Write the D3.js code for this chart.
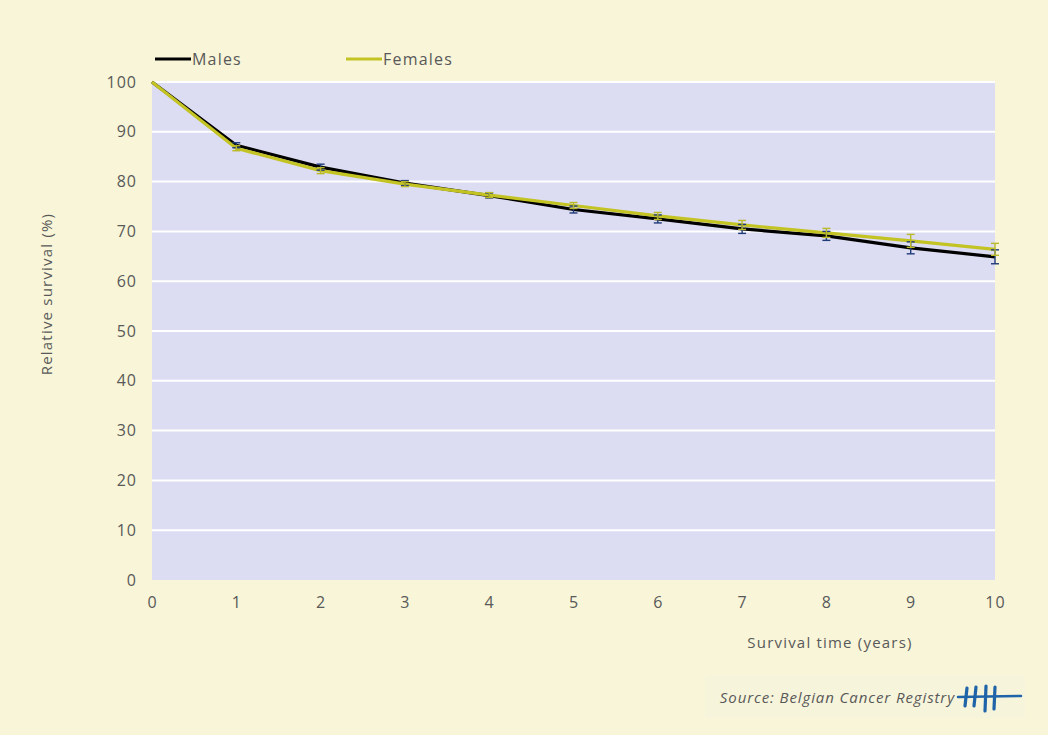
<!DOCTYPE html>
<html>
<head>
<meta charset="utf-8">
<script src="https://cdn.jsdelivr.net/npm/d3@7"></script>
<style>
  html, body { margin: 0; padding: 0; background: #f8f5d8; }
  svg { display: block; }
  text { font-family: "Open Sans", "Noto Sans", sans-serif; fill: #595959; }
</style>
</head>
<body>
<svg id="chart" width="1048" height="735"></svg>
<script>
// Survival time in years
const years = [0, 1, 2, 3, 4, 5, 6, 7, 8, 9, 10];
// Relative survival (%) by sex
const males   = [100, 87.3, 82.9, 79.7, 77.2, 74.4, 72.5, 70.5, 69.1, 66.7, 64.9];
const females = [100, 86.7, 82.2, 79.5, 77.3, 75.2, 73.1, 71.3, 69.7, 68.1, 66.4];
// Half-width of the 95% confidence interval (%)
const malesCI   = [0, 0.5, 0.6, 0.5, 0.5, 0.7, 0.8, 0.9, 0.9, 1.2, 1.4];
const femalesCI = [0, 0.5, 0.6, 0.5, 0.5, 0.6, 0.7, 0.9, 0.9, 1.3, 1.2];
const yTicks = [0, 10, 20, 30, 40, 50, 60, 70, 80, 90, 100];

const svg = d3.select("#chart");
const W = 1048, H = 735;
const m = { left: 152, right: 53, top: 82, bottom: 155 };

svg.append("rect").attr("width", W).attr("height", H).attr("fill", "#f8f5d8");

const x = d3.scaleLinear().domain([0, 10]).range([m.left, W - m.right]);
const y = d3.scaleLinear().domain([0, 100]).range([H - m.bottom, m.top]);

// plot area
svg.append("rect")
  .attr("x", x(0)).attr("y", y(100))
  .attr("width", x(10) - x(0)).attr("height", y(0) - y(100))
  .attr("fill", "#dcdcf2");

// horizontal gridlines
svg.append("g").selectAll("line").data(yTicks.filter(d => d > 0)).join("line")
  .attr("x1", x(0)).attr("x2", x(10))
  .attr("y1", d => y(d)).attr("y2", d => y(d))
  .attr("stroke", "#ffffff").attr("stroke-width", 2);

// y axis labels
const yAxis = d3.axisLeft(y).tickValues(yTicks).tickSize(0).tickPadding(15);
svg.append("g").attr("transform", `translate(${x(0)},0)`).call(yAxis)
  .call(g => g.select(".domain").remove())
  .selectAll("text").style("font-size", "16px").style("letter-spacing", "1px")
  .style("font-family", "'Open Sans', sans-serif").attr("fill", "#595959");

// x axis labels
const xAxis = d3.axisBottom(x).tickValues(years).tickSize(0).tickPadding(17);
svg.append("g").attr("transform", `translate(0,${y(0)})`).call(xAxis)
  .call(g => g.select(".domain").remove())
  .selectAll("text").style("font-size", "16px").style("letter-spacing", "1px")
  .style("font-family", "'Open Sans', sans-serif").attr("fill", "#595959");

// axis titles
svg.append("text")
  .attr("transform", `translate(52,${(y(0) + y(100)) / 2 - 37}) rotate(-90)`)
  .attr("text-anchor", "middle").style("font-size", "15px").style("letter-spacing", "1.2px")
  .text("Relative survival (%)");
svg.append("text")
  .attr("x", 830).attr("y", 648)
  .attr("text-anchor", "middle").style("font-size", "15px").style("letter-spacing", "1.2px")
  .text("Survival time (years)");

const series = [
  { name: "Males", values: males, ci: malesCI, color: "#000000", bar: "#1f3a78" },
  { name: "Females", values: females, ci: femalesCI, color: "#c3c324", bar: "#b9b92a" }
];

const line = d3.line().x((d, i) => x(years[i])).y(d => y(d));

series.forEach(s => {
  svg.append("path").datum(s.values)
    .attr("d", line).attr("fill", "none")
    .attr("stroke", s.color).attr("stroke-width", 3.2)
    .attr("stroke-linejoin", "round");
});

// confidence interval error bars
series.forEach(s => {
  const g = svg.append("g").attr("stroke", s.bar).attr("stroke-width", 1.4).attr("fill", "none");
  years.forEach((yr, i) => {
    if (s.ci[i] === 0) return;
    const cx = x(yr), lo = y(s.values[i] - s.ci[i]), hi = y(s.values[i] + s.ci[i]);
    g.append("line").attr("x1", cx).attr("x2", cx).attr("y1", lo).attr("y2", hi);
    g.append("line").attr("x1", cx - 4).attr("x2", cx + 4).attr("y1", lo).attr("y2", lo);
    g.append("line").attr("x1", cx - 4).attr("x2", cx + 4).attr("y1", hi).attr("y2", hi);
  });
});

// legend
const legendX = [155, 346];
series.forEach((s, i) => {
  const lg = svg.append("g").attr("transform", `translate(${legendX[i]},59)`);
  lg.append("line").attr("x1", 0).attr("x2", 36).attr("y1", 0).attr("y2", 0)
    .attr("stroke", s.color).attr("stroke-width", 3.2);
  lg.append("text").attr("x", 37).attr("y", 6).style("font-size", "16px")
    .style("letter-spacing", "1.2px").text(s.name);
});

// source note
svg.append("rect").attr("x", 705).attr("y", 675).attr("width", 320).attr("height", 43)
  .attr("fill", "#f6f4db");
svg.append("text")
  .attr("x", 955).attr("y", 703).attr("text-anchor", "end")
  .style("font-size", "15px").style("font-style", "italic").style("letter-spacing", "0.9px")
  .attr("fill", "#7f7f7f")
  .text("Source: Belgian Cancer Registry");
const logo = svg.append("g").attr("stroke", "#1f63a8").attr("stroke-linecap", "round").attr("fill", "none");
logo.append("path").attr("d", "M958,697 L1021,696").attr("stroke-width", 2.5);
[[967, 688, 965, 706], [976, 687, 974, 706], [986, 686, 985, 711], [995, 687, 994, 709]].forEach(p => {
  logo.append("path").attr("d", `M${p[0]},${p[1]} L${p[2]},${p[3]}`).attr("stroke-width", 3.2);
});
</script>
</body>
</html>
